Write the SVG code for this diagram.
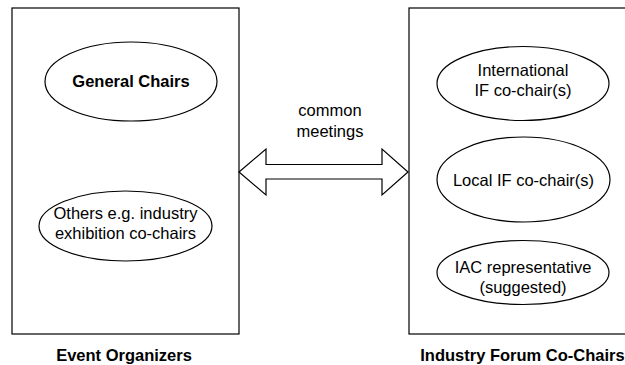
<svg xmlns="http://www.w3.org/2000/svg" width="625" height="365" viewBox="0 0 625 365">
<style>
.box{fill:#fff;stroke:#000;stroke-width:1.2}
.ell{fill:#fff;stroke:#000;stroke-width:1.2}
text{font-family:"Liberation Sans",Arial,Helvetica,sans-serif;font-size:16.5px;fill:#000;text-anchor:middle}
.b{font-weight:bold}
</style>
<rect width="625" height="365" fill="#fff"/>
<g id="event-organizers">
<rect class="box" x="12" y="8" width="227" height="326"/>
<text class="b" x="124" y="361">Event Organizers</text>
</g>
<g id="industry-forum">
<rect class="box" x="409" y="8" width="227" height="326"/>
<text class="b" x="522.5" y="361">Industry Forum Co-Chairs</text>
</g>
<g id="general-chairs">
<ellipse class="ell" cx="131" cy="81.5" rx="86" ry="39.5"/>
<text class="b" x="131" y="87">General Chairs</text>
</g>
<g id="others">
<ellipse class="ell" cx="125.5" cy="226" rx="86.5" ry="35"/>
<text x="125.5" y="219">Others e.g. industry</text>
<text x="125.5" y="239">exhibition co-chairs</text>
</g>
<g id="international">
<ellipse class="ell" cx="523" cy="83.5" rx="86" ry="37"/>
<text x="523" y="76">International</text>
<text x="523" y="96">IF co-chair(s)</text>
</g>
<g id="local">
<ellipse class="ell" cx="523.5" cy="179.5" rx="86.5" ry="42.5"/>
<text x="523.5" y="185.5">Local IF co-chair(s)</text>
</g>
<g id="iac">
<ellipse class="ell" cx="523" cy="272.5" rx="86" ry="32"/>
<text x="523" y="273">IAC representative</text>
<text x="523" y="293">(suggested)</text>
</g>
<g id="connectors">
<path class="box" d="M239,172 L266,149 L266,164.5 L382,164.5 L382,149 L408,172 L382,195 L382,179 L266,179 L266,195 Z"/>
<text x="330" y="116">common</text>
<text x="330" y="137">meetings</text>
</g>
</svg>
